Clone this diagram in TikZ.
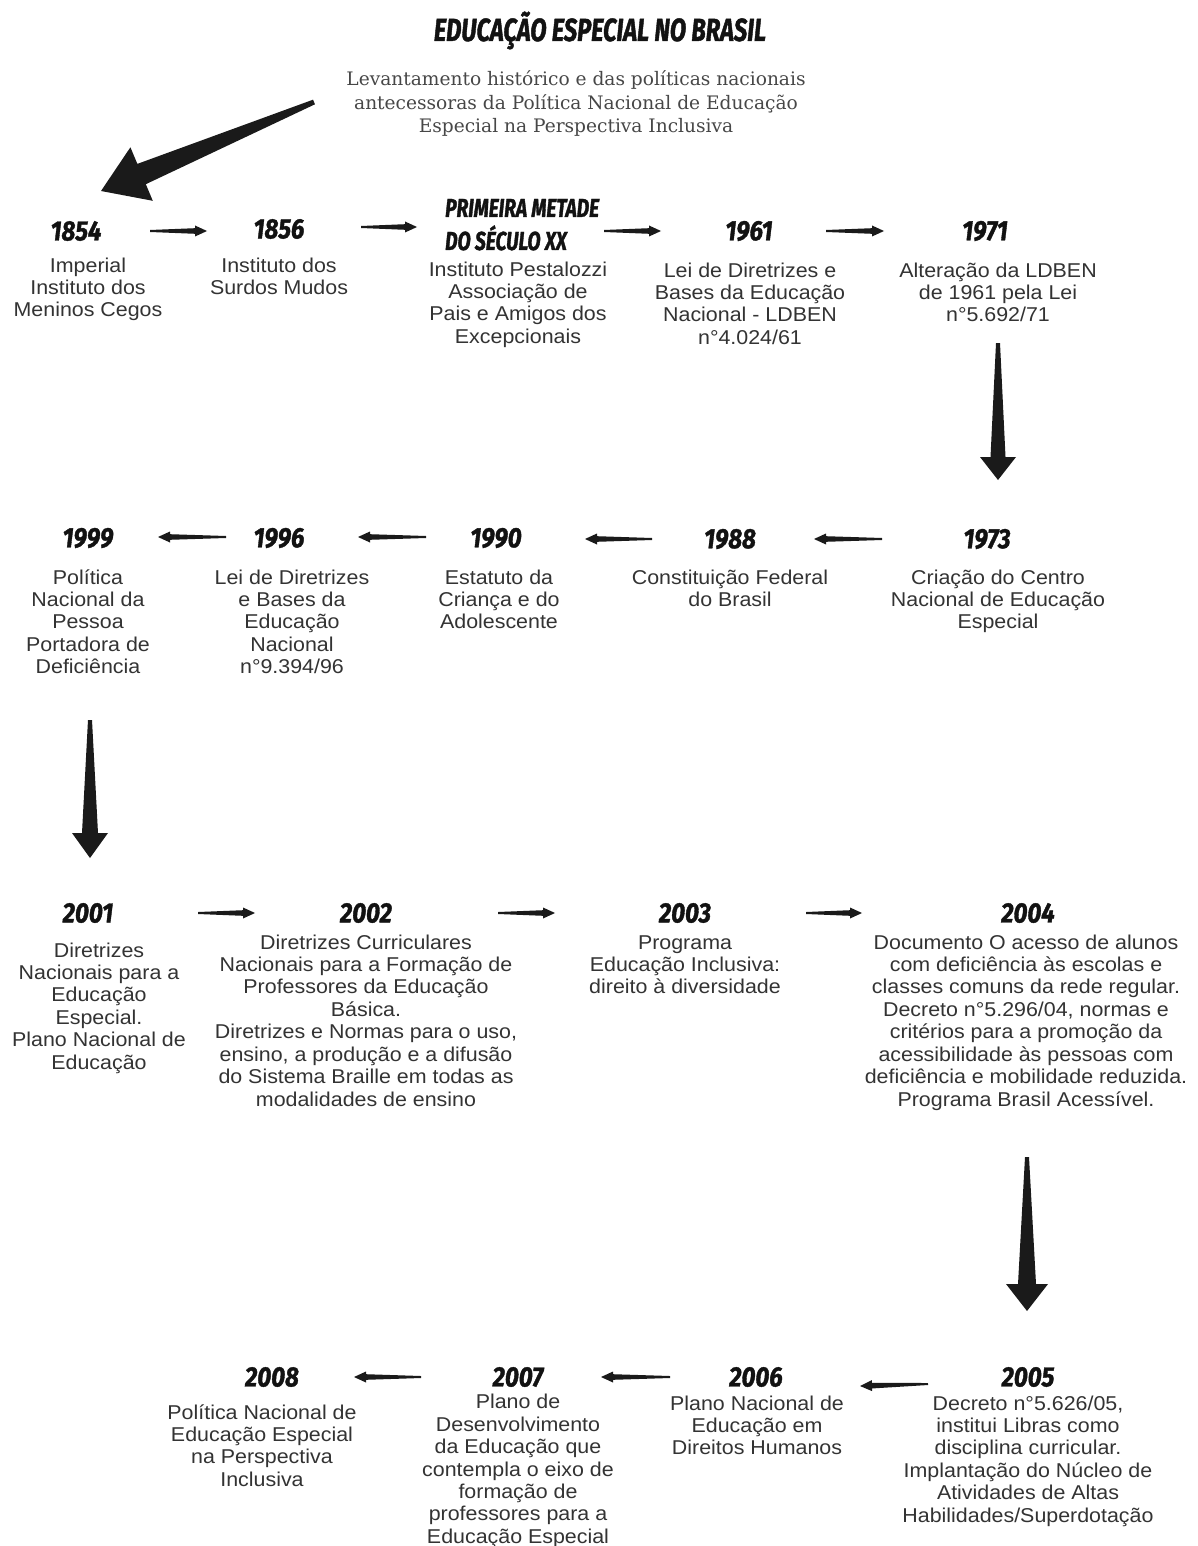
\documentclass[tikz,border=0pt]{standalone}
\usepackage{fontspec}
\setmainfont{Liberation Sans}
\newfontfamily\bodyfam[FakeStretch=1.07]{Liberation Sans}
\newfontfamily\subfam{DejaVu Serif}
\newfontfamily\yearfam[FakeStretch=0.86,FakeBold=1.3]{Fira Sans}
\newfontfamily\ttlfam[FakeStretch=0.74,FakeBold=1.3]{Fira Sans}
\usetikzlibrary{calc}
\definecolor{txt}{HTML}{333333}
\definecolor{ink}{HTML}{121212}
\definecolor{arrowfill}{HTML}{1A1A1A}
\newcommand\taper[6]{%
  \path coordinate (tH) at ($(#2)!#5!(#1)$);
  \fill[arrowfill] ($(#1)!#3!90:(#2)$) -- ($(tH)!#4!90:(#2)$) -- ($(tH)!#6!90:(#2)$) -- (#2)
    -- ($(tH)!#6!-90:(#2)$) -- ($(tH)!#4!-90:(#2)$) -- ($(#1)!#3!-90:(#2)$) -- cycle;}
\newcommand\smallarrow[2]{\taper{#1}{#2}{1pt}{2.8pt}{12pt}{5.5pt}}
\tikzset{
  body/.style={font=\bodyfam\fontsize{20}{22.45}\selectfont, align=center, text=txt, inner sep=0pt, anchor=base},
  year/.style={font=\yearfam\bfseries\itshape\fontsize{28}{30}\selectfont, text=ink, inner sep=0pt, anchor=center},
  ttl/.style={font=\ttlfam\bfseries\itshape\fontsize{32}{34}\selectfont, text=ink, inner sep=0pt, anchor=base},
  sub/.style={font=\subfam\fontsize{18.6}{23.5}\selectfont, align=center, text=txt!90!white, inner sep=0pt, anchor=base},
}
\begin{document}
\begin{tikzpicture}[x=1pt,y=-1pt]
\useasboundingbox (0,0) rectangle (1198,1546);
\fill[white] (0,0) rectangle (1198,1546);

% title and subtitle (base anchor = last line baseline)
\node[ttl] (title) at (600,41) {EDUCAÇÃO ESPECIAL NO BRASIL};
\node[sub] (subtitle) at (576,133) {Levantamento histórico e das políticas nacionais\\antecessoras da Política Nacional de Educação\\Especial na Perspectiva Inclusiva};

% row 1
\node[year] (y1854) at (76,231) {1854};
\node[year] (y1856) at (279,229) {1856};
\node[anchor=base west, align=left, inner sep=0pt, text=ink, font=\ttlfam\bfseries\itshape\fontsize{26}{33}\selectfont] (yPM) at (445,250) {PRIMEIRA METADE\\DO SÉCULO XX};
\node[year] (y1961) at (749,231) {1961};
\node[year] (y1971) at (985,231) {1971};
\node[body] (t1854) at (88,316.9) {Imperial\\Instituto dos\\Meninos Cegos};
\node[body] (t1856) at (279,294.5) {Instituto dos\\Surdos Mudos};
\node[body] (tPM) at (518,343.4) {Instituto Pestalozzi\\Associação de\\Pais e Amigos dos\\Excepcionais};
\node[body] (t1961) at (750,344.4) {Lei de Diretrizes e\\Bases da Educação\\Nacional - LDBEN\\n°4.024/61};
\node[body] (t1971) at (998,321.9) {Alteração da LDBEN\\de 1961 pela Lei\\n°5.692/71};

% row 2
\node[year] (y1999) at (88,538) {1999};
\node[year] (y1996) at (279,538) {1996};
\node[year] (y1990) at (496,538) {1990};
\node[year] (y1988) at (730,539) {1988};
\node[year] (y1973) at (987,539) {1973};
\node[body] (t1999) at (88,673.8) {Política\\Nacional da\\Pessoa\\Portadora de\\Deficiência};
\node[body] (t1996) at (292,673.8) {Lei de Diretrizes\\e Bases da\\Educação\\Nacional\\n°9.394/96};
\node[body] (t1990) at (499,628.9) {Estatuto da\\Criança e do\\Adolescente};
\node[body] (t1988) at (730,606.5) {Constituição Federal\\do Brasil};
\node[body] (t1973) at (998,628.9) {Criação do Centro\\Nacional de Educação\\Especial};

% row 3
\node[year] (y2001) at (88,913) {2001};
\node[year] (y2002) at (366,913) {2002};
\node[year] (y2003) at (685,913) {2003};
\node[year] (y2004) at (1028,913) {2004};
\node[body] (t2001) at (99,1069.3) {Diretrizes\\Nacionais para a\\Educação\\Especial.\\Plano Nacional de\\Educação};
\node[body] (t2002) at (366,1106.2) {Diretrizes Curriculares\\Nacionais para a Formação de\\Professores da Educação\\Básica.\\Diretrizes e Normas para o uso,\\ensino, a produção e a difusão\\do Sistema Braille em todas as\\modalidades de ensino};
\node[body] (t2003) at (685,993.9) {Programa\\Educação Inclusiva:\\direito à diversidade};
\node[body] (t2004) at (1026,1106.2) {Documento O acesso de alunos\\com deficiência às escolas e\\classes comuns da rede regular.\\Decreto n°5.296/04, normas e\\critérios para a promoção da\\acessibilidade às pessoas com\\deficiência e mobilidade reduzida.\\Programa Brasil Acessível.};

% row 4
\node[year] (y2008) at (272,1377) {2008};
\node[year] (y2007) at (518,1377) {2007};
\node[year] (y2006) at (756,1377) {2006};
\node[year] (y2005) at (1028,1377) {2005};
\node[body] (t2008) at (262,1486.4) {Política Nacional de\\Educação Especial\\na Perspectiva\\Inclusiva};
\node[body] (t2007) at (518,1543.4) {Plano de\\Desenvolvimento\\da Educação que\\contempla o eixo de\\formação de\\professores para a\\Educação Especial};
\node[body] (t2006) at (757,1454.9) {Plano Nacional de\\Educação em\\Direitos Humanos};
\node[body] (t2005) at (1028,1522.3) {Decreto n°5.626/05,\\institui Libras como\\disciplina curricular.\\Implantação do Núcleo de\\Atividades de Altas\\Habilidades/Superdotação};

% arrow end points
\coordinate (d0s) at (314,102); \coordinate (d0e) at (101,191);
\coordinate (a1s) at (150,231); \coordinate (a1e) at (207,231);
\coordinate (a2s) at (361,227); \coordinate (a2e) at (417,227);
\coordinate (a3s) at (604,231); \coordinate (a3e) at (661,231);
\coordinate (a4s) at (826,231); \coordinate (a4e) at (884,231);
\coordinate (d1s) at (998,343); \coordinate (d1e) at (998,480);
\coordinate (b1s) at (882,539); \coordinate (b1e) at (814,539);
\coordinate (b2s) at (652,539); \coordinate (b2e) at (585,539);
\coordinate (b3s) at (426,537); \coordinate (b3e) at (358,537);
\coordinate (b4s) at (226,537); \coordinate (b4e) at (158,537);
\coordinate (d2s) at (90,720); \coordinate (d2e) at (90,858);
\coordinate (c1s) at (198,913); \coordinate (c1e) at (255,913);
\coordinate (c2s) at (498,913); \coordinate (c2e) at (555,913);
\coordinate (c3s) at (806,913); \coordinate (c3e) at (862,913);
\coordinate (d3s) at (1027,1157); \coordinate (d3e) at (1027,1311);
\coordinate (e1s) at (928,1384); \coordinate (e1e) at (860,1386);
\coordinate (e2s) at (670,1377); \coordinate (e2e) at (601,1377);
\coordinate (e3s) at (421,1377); \coordinate (e3e) at (354,1377);

% arrows
\taper{d0s}{d0e}{2.5pt}{11pt}{44pt}{29pt}
\smallarrow{a1s}{a1e}
\smallarrow{a2s}{a2e}
\smallarrow{a3s}{a3e}
\smallarrow{a4s}{a4e}
\taper{d1s}{d1e}{2pt}{7.5pt}{23pt}{18pt}
\smallarrow{b1s}{b1e}
\smallarrow{b2s}{b2e}
\smallarrow{b3s}{b3e}
\smallarrow{b4s}{b4e}
\taper{d2s}{d2e}{2pt}{8pt}{25pt}{18pt}
\smallarrow{c1s}{c1e}
\smallarrow{c2s}{c2e}
\smallarrow{c3s}{c3e}
\taper{d3s}{d3e}{2pt}{9pt}{27pt}{21pt}
\smallarrow{e1s}{e1e}
\smallarrow{e2s}{e2e}
\smallarrow{e3s}{e3e}
\end{tikzpicture}
\end{document}
